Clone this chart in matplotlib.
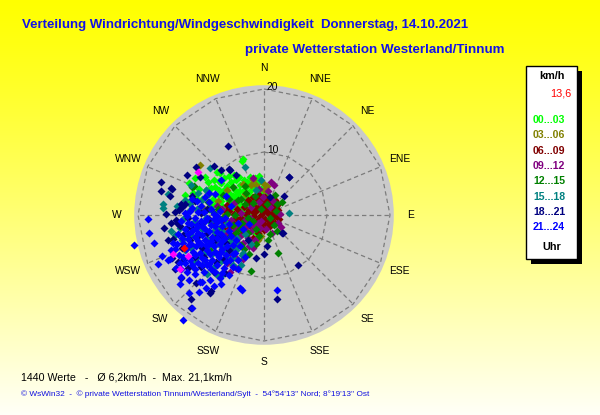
import numpy as np
import matplotlib
matplotlib.use("Agg")
import matplotlib.pyplot as plt
from matplotlib.patches import Rectangle, Circle

# ---------------- data (wind vectors: east / north component, km/h) -------------
title = "Verteilung Windrichtung/Windgeschwindigkeit  Donnerstag, 14.10.2021"
subtitle = "private Wetterstation Westerland/Tinnum"
directions = ["N", "NNE", "NE", "ENE", "E", "ESE", "SE", "SSE",
              "S", "SSW", "SW", "WSW", "W", "WNW", "NW", "NNW"]
ring_values = [10, 20]
legend_unit = "km/h"
current_speed = "13,6"
hour_labels = ["00...03", "03...06", "06...09", "09...12",
               "12...15", "15...18", "18...21", "21...24"]
hour_colors = ["#00ff00", "#808000", "#800000", "#800080",
               "#008000", "#008080", "#000080", "#0000ff"]
footer = "1440 Werte   -   Ø 6,2km/h  -  Max. 21,1km/h"
copyright_text = "© WsWin32  -  © private Wetterstation Tinnum/Westerland/Sylt  -  54°54'13'' Nord; 8°19'13'' Ost"

h00_03 = [(-3.5, 8.6), (-3.3, 8.9), (-7.5, 6.8), (-7.0, 6.6), (-9.4, 6.0), (-11.9, 5.0), (-11.2, 3.5),
          (-11.9, 2.1), (-6.9, 5.0), (-6.2, 4.2), (-5.3, 5.3), (-4.5, 5.5), (-3.2, 5.6), (-2.7, 5.3),
          (-1.6, 4.6), (-1.1, 5.0), (-0.4, 4.1), (0.2, 3.5), (0.7, 3.0), (-0.2, 2.4), (-1.0, 3.4),
          (-2.1, 3.9), (-2.9, 4.4), (-3.8, 4.7), (-4.6, 3.9), (-5.4, 3.3), (-6.1, 2.8), (-7.2, 3.1),
          (-8.1, 2.6), (-8.8, 3.4), (-9.8, 2.6), (-7.6, 1.7), (-6.6, 1.5), (-5.6, 2.2), (-4.8, 2.6),
          (-3.9, 3.0), (-3.1, 2.7), (-2.3, 2.0), (-1.5, 1.6), (-0.8, 1.8), (-2.6, 1.1), (-3.6, 1.6),
          (-4.3, 1.2), (-5.2, 0.9), (-1.9, 2.9), (-4.0, 3.8), (-6.7, 3.6), (-5.9, 4.6), (-8.4, 4.3),
          (-3.5, 0.6), (-1.2, 0.7), (-2.9, -0.3), (-4.7, -0.5), (1.2, 2.3), (0.5, 1.0), (-10.3, 4.2),
          (-0.6, -0.3), (-2.0, 0.2), (-7.8, -0.6), (-6.0, -1.1), (-4.0, -2.0),
          (-8.9, 5.2), (-8.0, 5.6), (-7.2, 5.4), (-6.4, 5.8), (-5.6, 6.2), (-4.8, 6.4), (-4.0, 6.1),
          (-2.3, 6.0), (-1.4, 5.8), (-0.6, 5.4), (-7.8, 4.4), (-7.1, 3.9), (-6.3, 3.5), (-5.0, 3.0),
          (-4.3, 3.3), (-3.4, 3.8), (-2.5, 3.2), (-1.7, 2.4), (-1.0, 2.6), (-0.3, 3.1), (-2.9, 1.6),
          (-4.4, 2.2), (-5.8, 1.4), (-6.9, 2.3), (-8.3, 1.5), (-9.2, 4.0), (-10.8, 2.7), (-12.6, 3.2),
          (-11.0, 5.8), (-1.7, -2.6), (-1.2, -2.9), (-3.2, 0.1), (0.1, 4.5), (-0.8, 6.2)]
h03_06 = [(-10.2, 8.0), (-2.0, 4.8), (-1.2, 4.8), (-0.1, 5.0), (0.4, 4.6), (-0.4, -3.3), (-10.6, 0.8),
          (-9.8, 1.3), (1.2, 0.5), (1.4, -0.4), (-1.7, 5.5), (-1.2, 2.9), (0.0, 3.9), (-3.0, 3.3),
          (-4.4, 2.0), (-5.8, 3.9), (-2.3, -1.4), (-0.9, -2.6), (-7.3, 2.2), (-6.5, 0.4), (0.9, -1.5),
          (-3.4, 4.9), (-1.0, -4.0)]
h06_09 = [(-0.2, 0.4), (0.3, 0.9), (0.8, 0.2), (1.2, 1.1), (1.6, 0.5), (-0.8, 1.3), (-1.2, 0.6),
          (-1.6, -0.2), (-0.6, -0.5), (0.2, -0.7), (0.9, -0.9), (1.5, -0.3), (1.9, 1.4), (0.6, 1.8),
          (-0.3, 2.1), (-1.0, 2.4), (0.1, 2.8), (1.1, 2.4), (-2.0, 1.7), (-2.4, 0.8), (-2.2, -0.9),
          (-1.4, -1.5), (-0.7, -1.9), (0.4, -1.6), (-2.9, 0.2), (-3.2, 1.3), (-3.6, -0.5), (-4.3, 0.9),
          (-4.8, 0.1), (-5.5, 0.6), (-6.2, -0.1), (-7.0, 0.9), (-2.7, -1.8), (-3.9, -1.4), (2.0, -0.2),
          (2.2, 0.8), (1.4, 1.9), (0.0, 1.3), (-1.8, 2.9), (-0.9, 3.3), (-5.0, -1.2), (-6.5, -2.0),
          (-3.0, -2.6), (-4.2, -2.3), (-7.6, -0.8), (-5.8, 1.6),
          (-0.5, 0.0), (0.5, 0.5), (1.0, 1.5), (1.8, 2.4), (2.3, 1.7), (2.4, -0.6), (1.7, -1.2),
          (1.0, -1.8), (-0.2, -1.2), (-1.0, -0.8), (-1.8, 0.5), (-1.4, 1.2), (-0.5, 1.8), (0.4, 2.3),
          (-0.5, 2.8), (-2.6, 2.4), (-3.0, -0.8), (-2.1, -1.9), (-1.0, -2.8), (-3.5, -3.0), (-4.7, -3.0),
          (-5.5, -2.1), (-6.4, -1.2), (-6.0, 0.6), (-4.5, -0.5), (-3.8, 0.3), (-8.2, -1.3), (-7.0, -2.8),
          (0.0, -2.4), (-1.8, -3.6)]
h09_12 = [(-1.7, 5.8), (1.6, 4.8), (2.2, -1.2), (-0.1, 2.8), (0.6, 3.8), (-0.8, 4.2), (-2.7, -1.8),
          (-3.8, -3.4), (-4.8, -5.0), (-5.4, -6.1), (-6.4, -7.1), (-1.4, -4.0), (-1.8, -5.3), (-5.4, -9.0),
          (-3.0, -0.8), (-4.2, -1.6), (-5.5, -2.4), (-6.6, -3.3), (-7.2, -4.6), (-2.0, -2.6), (-1.0, -1.2),
          (0.3, -2.2), (-3.3, -4.4), (-4.4, -6.8), (-6.0, -5.2), (-2.5, -3.6), (-8.0, -2.6), (-5.2, -0.8),
          (-3.6, 0.3), (-6.6, 0.9), (-4.7, 1.9), (1.5, 2.2), (-0.4, -0.9), (-7.5, 1.5), (-2.0, 1.2),
          (-0.8, 2.0), (0.9, 1.3), (2.6, 0.1), (2.7, -1.9), (1.2, -2.8), (-0.6, -2.0), (-1.6, -1.8),
          (-2.3, -0.4), (-3.5, -1.6), (-4.6, -2.4), (-5.0, -3.8), (-6.0, -3.0), (-7.0, -5.8), (-5.8, -7.6),
          (-3.4, -7.0), (-2.4, -5.0), (-4.0, -4.6), (-3.2, -2.4), (-8.6, -4.6), (-4.5, -8.4), (1.1, 5.3)]
h12_15 = [(2.2, -6.1), (-2.0, -8.9), (1.0, -3.0), (2.0, 1.7), (2.8, 2.0), (-11.5, 4.4), (-11.1, 4.6),
          (-3.7, -4.8), (-1.3, -2.2), (-2.6, -0.5), (-3.5, -1.2), (-4.6, 0.0), (-5.8, 0.2), (-6.8, -0.6),
          (-7.9, 0.3), (-8.8, 1.0), (-4.1, 2.4), (-2.8, 3.5), (-1.4, 3.0), (-5.0, 4.5), (-6.5, 3.2),
          (-8.9, 2.0), (-3.0, 1.8), (-1.8, -1.0), (0.4, 1.8), (1.8, 3.2), (-7.0, -2.1), (-5.5, -3.5),
          (-9.8, -1.5), (-4.4, -2.8), (-2.4, -6.2), (-6.2, -4.3), (-0.8, -3.4), (1.6, -1.6),
          (-0.4, 0.9), (0.9, -0.4), (1.9, 0.7), (-1.8, 1.9), (-3.6, 2.6), (-5.6, 2.6), (-7.3, 1.0),
          (-6.2, -0.2), (-4.9, -1.6), (-3.8, -2.2), (-2.6, -2.8), (-5.0, -5.6), (-3.2, -5.4), (-1.2, -4.6),
          (0.7, -4.0), (2.0, -2.6), (-7.8, -3.4), (-8.5, -5.6), (-9.6, 0.5), (-3.0, 4.6)]
h15_18 = [(3.9, 0.3), (-8.5, 7.4), (-16.1, 1.7), (-16.1, 1.1), (-15.3, 3.3), (-11.6, 4.7), (-6.6, -9.5),
          (-7.6, -9.4), (-3.3, -6.1), (-14.7, -2.6), (-14.1, -3.2), (-7.5, -9.3), (-4.9, -6.9), (-3.5, -6.3),
          (-9.8, 2.4), (-8.5, 1.0), (-9.2, -0.5), (-10.5, -1.8), (-8.0, -2.6), (-9.0, -3.8), (-10.2, -4.8),
          (-7.1, -4.0), (-6.3, -5.8), (-8.3, -6.2), (-5.3, -4.2), (-4.3, -3.6), (-6.0, -1.5), (-7.3, -1.0),
          (-11.6, -3.2), (-12.6, -5.5), (-11.1, -7.5), (-9.6, -7.8), (-5.0, -7.9), (-3.0, -3.0), (-1.2, 4.0),
          (-12.8, -0.6), (-13.4, -2.0), (-2.0, -4.6), (-10.7, 0.9), (-11.8, 1.8), (-6.8, -7.3), (-4.4, -5.5),
          (-9.2, 4.0), (-10.4, 3.5), (-12.6, 2.4), (-13.8, 1.5), (-12.0, 0.4), (-11.0, -1.0), (-9.8, -2.2),
          (-8.6, -1.1), (-7.6, -2.0), (-6.6, -2.6), (-7.8, -4.8), (-6.8, -5.0), (-5.9, -6.8), (-8.9, -5.0),
          (-9.5, -6.2), (-10.6, -6.6), (-11.6, -5.2), (-13.0, -4.0), (-12.4, -2.8), (-4.2, -4.8),
          (-5.2, -5.0), (-7.9, -8.3), (-9.0, -9.4), (-3.6, -8.0), (-0.4, 5.6), (-3.0, 7.6)]
h18_21 = [(-5.7, 11.0), (3.9, 6.0), (-16.4, 5.2), (-16.4, 3.8), (-14.7, 4.3), (-13.2, 1.8), (-10.8, 7.6),
          (-5.5, 7.3), (-6.8, 7.2), (2.9, -2.9), (0.0, -6.2), (5.4, -7.9), (2.0, -13.4), (-11.6, -13.4),
          (-11.6, -14.8), (-8.6, -12.4), (-8.4, -12.1), (-14.7, -1.3), (-15.2, -4.0), (-12.8, -7.1),
          (1.0, 2.9), (3.2, 3.0), (-14.1, -8.6), (-13.2, -10.0), (-13.5, 0.8), (-14.2, 0.4), (-13.0, 1.2),
          (-14.0, -0.8), (-13.3, -1.8), (-12.2, -2.0), (-10.5, -3.4), (-9.0, -2.8), (-11.8, -4.0),
          (-8.0, -4.2), (-7.0, -3.2), (-6.0, -4.4), (-9.8, -5.2), (-7.6, -7.4), (-9.6, -6.6), (-11.0, -6.6),
          (-5.6, -5.6), (-13.0, -5.2), (-12.0, -0.4), (-10.0, 0.3), (-9.0, 1.0), (-11.4, 3.0), (-14.6, 4.2),
          (-15.0, 3.0), (-5.4, 7.1), (-1.2, -6.9), (-2.6, -4.0),
          (-15.6, 0.2), (-15.8, -2.0), (-14.4, -3.8), (-14.6, -6.8), (-13.6, -7.4), (-12.0, -8.4),
          (-10.0, -8.3), (-8.0, -9.0), (-6.2, -9.2), (-10.8, -10.8), (-12.6, 1.8), (-11.0, 2.2),
          (-10.2, -1.4), (-8.8, -0.6), (-7.6, -3.6), (-11.2, -2.2), (-12.8, -3.2), (-6.4, -7.0),
          (-13.8, -1.2), (0.5, -4.9), (3.0, -2.8), (4.0, 6.1), (-4.4, 6.4), (-7.9, 7.8), (-10.2, 6.0),
          (-12.3, 6.4)]
h21_24 = [(-7.0, 0.6), (-8.0, 0.2), (-9.0, -0.4), (-10.0, -0.9), (-11.0, -0.4), (-12.0, -1.2), (-12.6, -2.3),
          (-11.5, -2.5), (-10.4, -2.8), (-9.4, -2.2), (-8.4, -1.6), (-7.5, -1.1), (-6.6, -1.8), (-7.4, -2.7),
          (-8.3, -3.5), (-9.4, -4.0), (-10.5, -4.2), (-11.6, -4.6), (-12.4, -5.4), (-11.2, -5.8), (-10.2, -6.0),
          (-9.1, -5.6), (-8.0, -5.0), (-7.0, -4.6), (-6.2, -3.6), (-5.6, -2.6), (-5.0, -4.8), (-6.0, -6.3),
          (-7.2, -6.6), (-8.2, -7.1), (-9.3, -7.2), (-10.4, -7.6), (-11.4, -8.0), (-12.6, -7.6), (-13.5, -6.4),
          (-13.8, -4.6), (-13.0, -3.6), (-14.0, -8.4), (-12.2, -9.0), (-10.9, -9.3), (-9.6, -9.0), (-8.4, -8.6),
          (-7.4, -8.0), (-6.4, -8.4), (-5.4, -7.2), (-4.6, -6.0), (-4.2, -8.6), (-5.6, -9.6), (-7.0, -10.0),
          (-8.6, -10.3), (-9.9, -10.6), (-13.2, -9.9), (-11.9, -10.3), (-14.8, -5.6), (-15.0, -7.0),
          (-12.5, 0.3), (-11.5, 1.1), (-10.0, 1.5), (-8.7, 2.0), (-7.8, 3.4), (-6.9, 5.6), (-6.0, 3.0),
          (-5.2, 1.4), (-4.2, -1.2), (-3.4, -2.2), (-2.4, -1.5), (-3.8, -5.0), (-3.0, -6.6), (-12.0, -3.0),
          (-9.8, -3.2), (-8.8, -4.6), (-10.8, -5.0), (-12.9, -4.5), (-7.8, -5.8), (-6.6, -5.4), (-9.0, -8.0),
          (-11.9, -6.8), (-13.3, -7.6), (-10.6, -1.6), (-9.3, -1.0), (-7.9, -0.6),
          (-20.7, -4.8), (-18.2, -2.9), (-17.4, -4.4), (-18.4, -0.6), (-16.2, -6.5), (-16.9, -7.7),
          (-15.2, -7.1), (-13.3, -10.9), (-11.9, -12.4), (-10.3, -12.2), (-11.5, -14.8), (-12.8, -16.6),
          (-10.2, -10.6), (-3.8, -11.6), (-3.5, -11.9), (2.1, -11.9), (-11.4, 2.6), (-8.8, 3.5),
          (-6.2, -0.4), (-5.6, -1.4), (-6.8, -0.8), (-7.7, -1.8), (-8.8, -2.6), (-9.8, -1.8), (-10.8, -2.0),
          (-11.6, -1.5), (-12.2, -0.2), (-13.1, -1.0), (-13.6, -3.0), (-12.0, -3.8), (-10.9, -3.5),
          (-10.0, -4.6), (-9.2, -4.8), (-8.4, -4.2), (-7.5, -3.6), (-6.8, -3.0), (-6.6, -4.2), (-5.8, -5.0),
          (-6.8, -5.8), (-7.6, -6.0), (-8.6, -6.2), (-9.8, -6.8), (-10.9, -6.3), (-11.8, -7.2), (-12.8, -6.6),
          (-13.1, -8.5), (-11.0, -8.6), (-9.9, -8.0), (-8.8, -7.8), (-7.8, -9.0), (-6.7, -9.2), (-5.0, -8.2),
          (-4.2, -7.2), (-6.0, -7.4), (-4.9, -6.2), (-4.4, -4.0), (-5.2, -3.4), (-9.6, 0.4), (-10.5, 0.4),
          (-11.8, 0.6), (-8.4, 1.0), (-7.4, -0.2), (-9.4, 2.8), (-10.6, 2.2), (-14.2, -5.4), (-14.4, -4.4),
          (-12.0, -5.0), (-8.0, -11.2), (-9.2, -11.6), (-6.8, -11.0)]
highlight_magenta = [(-10.4, 6.8), (-14.4, -6.2), (-12.0, -6.5), (-13.4, -8.5)]
highlight_red = [(-12.7, -5.3)]

groups = [h00_03, h03_06, h06_09, h09_12, h12_15, h15_18, h18_21, h21_24]

# ---------------- figure ------------------------------------------------------
W, H = 600, 415
fig = plt.figure(figsize=(W / 100, H / 100), dpi=100)

bg = fig.add_axes([0, 0, 1, 1])
bg.set_xlim(0, W)
bg.set_ylim(H, 0)
bg.axis("off")
yy = np.linspace(0, 1, 200)[:, None]
blue_ch = np.clip(yy ** 1.15 * 0.97, 0, 1)
grad = np.dstack([np.ones_like(blue_ch), np.ones_like(blue_ch), blue_ch])
grad = np.repeat(grad, 2, axis=1)
bg.imshow(grad, extent=[0, W, H, 0], aspect="auto", zorder=0)

tcol = "#1212e6"
bg.text(22, 25, title, color=tcol, fontsize=9.55, fontweight="bold",
        family="Liberation Sans", va="center", ha="left")
bg.text(245, 50, subtitle, color=tcol, fontsize=9.65, fontweight="bold",
        family="Liberation Sans", va="center", ha="left")
bg.text(21, 377, footer, color="black", fontsize=7.7,
        family="Liberation Sans", va="center", ha="left")
bg.text(21, 394, copyright_text, color="#1010e0", fontsize=5.95,
        family="Liberation Sans", va="center", ha="left")

# legend box
bg.add_patch(Rectangle((531, 71), 51, 193, facecolor="black", edgecolor="none", zorder=2))
bg.add_patch(Rectangle((526, 66), 51, 193, facecolor="white", edgecolor="black", lw=1, zorder=3))
bg.text(552, 76, legend_unit, fontsize=7.8, fontweight="bold", family="Liberation Sans",
        ha="center", va="center", zorder=4)
bg.text(571, 93, current_speed, fontsize=7.8, color="red", family="Liberation Sans",
        ha="right", va="center", zorder=4)
for i, (lab, col) in enumerate(zip(hour_labels, hour_colors)):
    bg.text(533, 120 + i * 15.3, lab, fontsize=7.6, fontweight="bold", color=col,
            family="Liberation Sans", ha="left", va="center", zorder=4)
bg.text(552, 247, "Uhr", fontsize=7.8, fontweight="bold", family="Liberation Sans",
        ha="center", va="center", zorder=4)

# polar-like wind axes in km/h
cx, cy, scale, R = 264, 215, 6.3, 24.0
ax = fig.add_axes([(cx - R * scale) / W, (H - cy - R * scale) / H,
                   2 * R * scale / W, 2 * R * scale / H])
ax.set_xlim(-R, R)
ax.set_ylim(-R, R)
ax.axis("off")
ax.patch.set_alpha(0)

ax.add_patch(Circle((0, 0), 20.6, facecolor="#cacaca", edgecolor="none", zorder=1))
ang = np.deg2rad(np.arange(16) * 22.5)
gridkw = dict(color="#7c7c7c", lw=0.9, ls=(0, (3.5, 2.5)), zorder=2)
for a in ang:
    ax.plot([0, 20 * np.sin(a)], [0, 20 * np.cos(a)], **gridkw)
for rv in ring_values:
    px = rv * np.sin(np.append(ang, ang[0]))
    py = rv * np.cos(np.append(ang, ang[0]))
    ax.plot(px, py, **gridkw)
    ax.text(0.45, rv + 0.3, str(rv), fontsize=7.4, family="Liberation Sans",
            ha="left", va="center", zorder=3)

for a, d in zip(ang, directions):
    ax.text(23.3 * np.sin(a), 23.3 * np.cos(a), d, fontsize=7.4, family="Liberation Sans",
            ha="center", va="center", zorder=3)

for pts, col in zip(groups, hour_colors):
    arr = np.array(pts)
    ax.plot(arr[:, 0], arr[:, 1], ls="none", marker="D", ms=4.4, mfc=col, mec="none", zorder=4)
for pts, col in [(highlight_magenta, "#ff00ff"), (highlight_red, "#ff0000")]:
    arr = np.array(pts)
    ax.plot(arr[:, 0], arr[:, 1], ls="none", marker="D", ms=4.4, mfc=col, mec="none", zorder=5)

fig.savefig("out.png", dpi=100)
